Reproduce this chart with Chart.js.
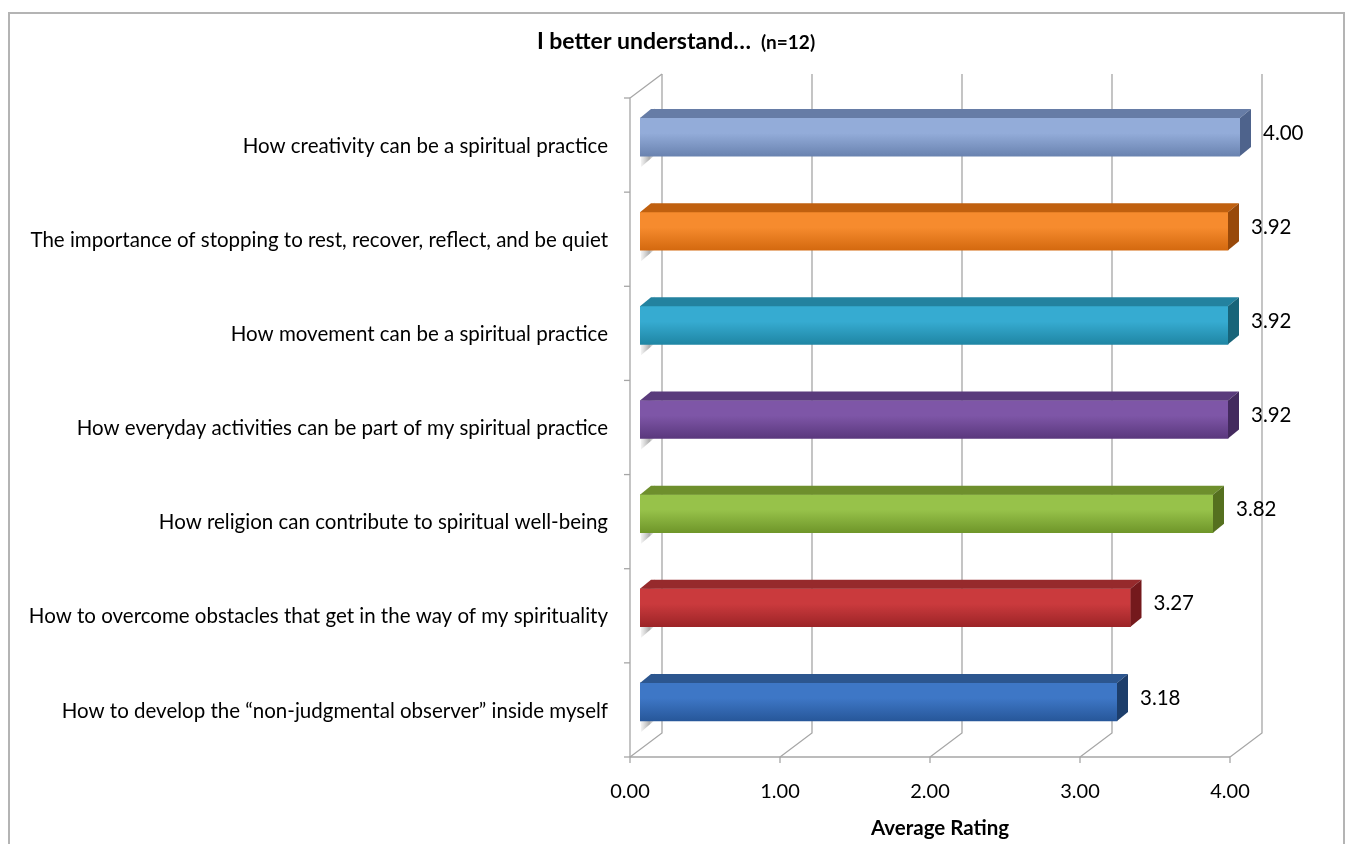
<!DOCTYPE html>
<html>
<head>
<meta charset="utf-8">
<script src="https://cdn.jsdelivr.net/npm/chart.js@4.4.1/dist/chart.umd.min.js"></script>
<style>
  html, body { margin: 0; padding: 0; background: #ffffff; }
  #wrap { position: relative; width: 1347px; height: 844px; }
  #frame { position: absolute; left: 8px; top: 12px; width: 1337px; height: 840px;
           border: 2px solid #b4b4b4; box-sizing: border-box; pointer-events: none; }
</style>
</head>
<body>
<div id="wrap">
  <canvas id="chart" width="1347" height="844"></canvas>
  <div id="frame"></div>
</div>
<script>
// Survey statements (top to bottom) and their average ratings
const categories = [
  'How creativity can be a spiritual practice',
  'The importance of stopping to rest, recover, reflect, and be quiet',
  'How movement can be a spiritual practice',
  'How everyday activities can be part of my spiritual practice',
  'How religion can contribute to spiritual well-being',
  'How to overcome obstacles that get in the way of my spirituality',
  'How to develop the \u201cnon-judgmental observer\u201d inside myself'
];
const averageRatings = [4.00, 3.92, 3.92, 3.92, 3.82, 3.27, 3.18];
const valueTicks = [0, 1, 2, 3, 4];
const chartTitle = 'I better understand\u2026';
const chartSubtitle = '(n=12)';
const axisTitle = 'Average Rating';

// Bar shades: [front top, front bottom, top face, side face]
const barShades = [
  ['#93acd9', '#6a83b0', '#667ca6', '#4e638c'],
  ['#f68b2e', '#d4690f', '#c0600f', '#98490a'],
  ['#36abd1', '#1f86a4', '#23829f', '#186479'],
  ['#7e56a7', '#5a387d', '#5a3b7c', '#432a5e'],
  ['#97c24a', '#6f962a', '#6e8f2d', '#55701f'],
  ['#ca3a3d', '#9c2427', '#962a2c', '#74191c'],
  ['#3e77c6', '#27579a', '#2c568f', '#1d3e6b']
];

// Depth of the 3D box: floor front edge, bar depth and back wall, relative to the bar face plane
const FRONT = { dx: -10, dy: 8 };
const BAR_DEPTH = { dx: 11, dy: -9 };
const BACK = { dx: 22, dy: -16 };
const GRID = '#a6a6a6';
const BAR_THICKNESS = 38;

const FONT = 'Lato, "Open Sans", sans-serif';

function faceGradient(ctx) {
  const i = ctx.dataIndex;
  const c = barShades[i];
  const chart = ctx.chart;
  const ys = chart.scales && chart.scales.y;
  if (!chart.chartArea || !ys || typeof ys.getPixelForValue !== 'function') return c[0];
  const yc = ys.getPixelForValue(i);
  if (!isFinite(yc)) return c[0];
  const h = BAR_THICKNESS;
  const g = chart.ctx.createLinearGradient(0, yc - h / 2, 0, yc + h / 2);
  g.addColorStop(0, c[0]);
  g.addColorStop(0.4, c[0]);
  g.addColorStop(1, c[1]);
  return g;
}

const box3d = {
  id: 'box3d',
  beforeDatasetsDraw(chart) {
    const { ctx, chartArea: a, scales } = chart;
    const xs = scales.x;
    ctx.save();
    ctx.strokeStyle = GRID;
    ctx.lineWidth = 1.3;
    const fTop = a.top + FRONT.dy, fBot = a.bottom + FRONT.dy;
    const bTop = a.top + BACK.dy, bBot = a.bottom + BACK.dy;
    // back wall verticals and floor diagonals
    valueTicks.forEach(v => {
      const px = xs.getPixelForValue(v);
      ctx.beginPath();
      ctx.moveTo(px + BACK.dx, bTop);
      ctx.lineTo(px + BACK.dx, bBot);
      ctx.lineTo(px + FRONT.dx, fBot);
      ctx.lineTo(px + FRONT.dx, fBot + 6);
      ctx.stroke();
    });
    // floor front edge
    ctx.beginPath();
    ctx.moveTo(xs.getPixelForValue(0) + FRONT.dx, fBot);
    ctx.lineTo(xs.getPixelForValue(4) + FRONT.dx, fBot);
    ctx.stroke();
    // side wall
    const x0 = xs.getPixelForValue(0);
    ctx.beginPath();
    ctx.moveTo(x0 + BACK.dx, bTop);
    ctx.lineTo(x0 + FRONT.dx, fTop);
    ctx.lineTo(x0 + FRONT.dx, fBot);
    ctx.stroke();
    // category tick marks
    const step = (fBot - fTop) / categories.length;
    for (let i = 0; i <= categories.length; i++) {
      const y = fTop + i * step;
      ctx.beginPath();
      ctx.moveTo(x0 + FRONT.dx - 6, y);
      ctx.lineTo(x0 + FRONT.dx, y);
      ctx.stroke();
    }
    // soft shadows cast by the bars onto the side wall
    const meta = chart.getDatasetMeta(0);
    meta.data.forEach(el => {
      const top = el.y - el.height / 2, bot = el.y + el.height / 2;
      const g = ctx.createLinearGradient(x0, 0, x0 + 17, 0);
      g.addColorStop(0, 'rgba(150,150,150,0.05)');
      g.addColorStop(0.55, 'rgba(120,120,120,0.6)');
      g.addColorStop(1, 'rgba(200,200,200,0.05)');
      ctx.fillStyle = g;
      ctx.beginPath();
      ctx.moveTo(x0 + 1, top + 2);
      ctx.lineTo(x0 + 15, top - 10);
      ctx.lineTo(x0 + 15, bot - 1);
      ctx.lineTo(x0 + 1, bot + 11);
      ctx.closePath();
      ctx.fill();
    });
    ctx.restore();
  },
  afterDatasetsDraw(chart) {
    const { ctx } = chart;
    const meta = chart.getDatasetMeta(0);
    ctx.save();
    meta.data.forEach((el, i) => {
      const c = barShades[i];
      const left = el.base, right = el.x;
      const top = el.y - el.height / 2, bot = el.y + el.height / 2;
      const dx = BAR_DEPTH.dx, dy = BAR_DEPTH.dy;
      // top face
      ctx.fillStyle = c[2];
      ctx.beginPath();
      ctx.moveTo(left, top);
      ctx.lineTo(left + dx, top + dy);
      ctx.lineTo(right + dx, top + dy);
      ctx.lineTo(right, top);
      ctx.closePath();
      ctx.fill();
      // end face
      ctx.fillStyle = c[3];
      ctx.beginPath();
      ctx.moveTo(right, top);
      ctx.lineTo(right + dx, top + dy);
      ctx.lineTo(right + dx, bot + dy);
      ctx.lineTo(right, bot);
      ctx.closePath();
      ctx.fill();
      // value label
      ctx.fillStyle = '#000000';
      ctx.font = '20.5px ' + FONT;
      ctx.textAlign = 'left';
      ctx.textBaseline = 'middle';
      ctx.fillText(averageRatings[i].toFixed(2), right + dx + 12, el.y - 4);
    });
    ctx.restore();
  },
  afterDraw(chart) {
    const { ctx } = chart;
    ctx.save();
    ctx.fillStyle = '#000000';
    ctx.textBaseline = 'middle';
    ctx.textAlign = 'left';
    const f1 = 'bold 23px ' + FONT, f2 = 'bold 19px ' + FONT;
    ctx.font = f1;
    const w1 = ctx.measureText(chartTitle).width;
    ctx.font = f2;
    const gap = 10;
    const w2 = ctx.measureText(chartSubtitle).width;
    const start = 676 - (w1 + gap + w2) / 2;
    ctx.font = f1;
    ctx.fillText(chartTitle, start, 42);
    ctx.font = f2;
    ctx.fillText(chartSubtitle, start + w1 + gap, 43);
    ctx.restore();
  }
};

new Chart(document.getElementById('chart'), {
  type: 'bar',
  data: {
    labels: categories,
    datasets: [{
      data: averageRatings,
      backgroundColor: faceGradient,
      borderWidth: 0,
      barThickness: BAR_THICKNESS
    }]
  },
  options: {
    indexAxis: 'y',
    responsive: false,
    animation: false,
    layout: { padding: { top: 90, right: 107, left: 0, bottom: 0 } },
    plugins: {
      legend: { display: false },
      tooltip: { enabled: false },
      title: { display: false }
    },
    scales: {
      x: {
        min: 0,
        max: 4,
        afterFit: s => { s.height = 95; },
        afterBuildTicks: s => { s.ticks = valueTicks.map(v => ({ value: v })); },
        grid: { display: false, drawTicks: false },
        border: { display: false },
        ticks: {
          color: '#000000',
          font: { family: FONT, size: 20 },
          padding: 31,
          labelOffset: -10,
          maxRotation: 0,
          callback: v => Number(v).toFixed(2)
        },
        title: {
          display: true,
          text: axisTitle,
          color: '#000000',
          font: { family: FONT, size: 20.5, weight: 'bold' },
          padding: { top: 0, bottom: 3 }
        }
      },
      y: {
        afterFit: s => { s.width = 640; },
        grid: { display: false, drawTicks: false },
        border: { display: false },
        ticks: {
          color: '#000000',
          font: { family: FONT, size: 20.5 },
          padding: 32,
          labelOffset: 9,
          autoSkip: false
        }
      }
    }
  },
  plugins: [box3d]
});
</script>
</body>
</html>
